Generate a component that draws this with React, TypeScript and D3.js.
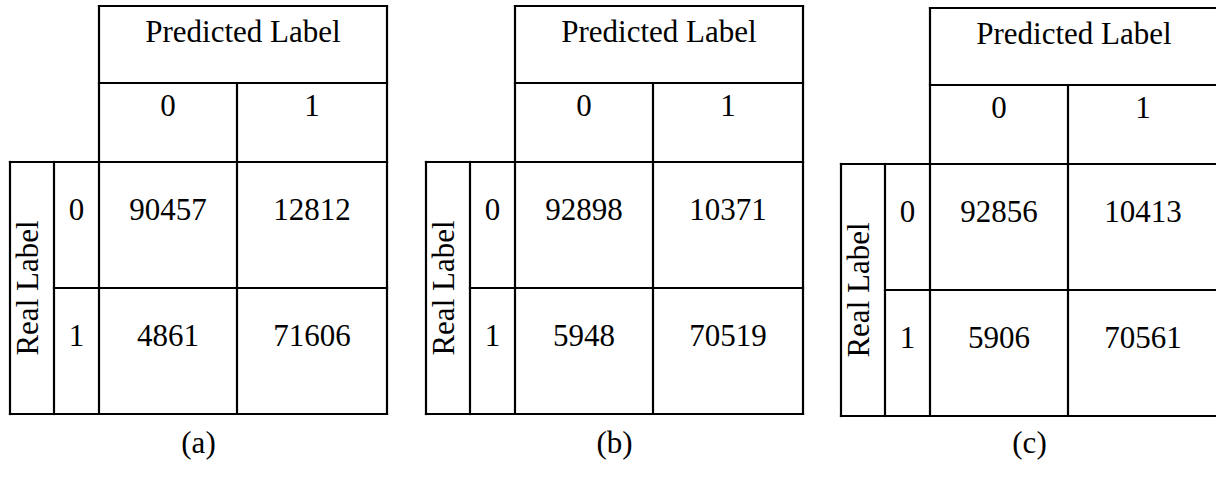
// App.tsx - three confusion matrices side by side
import * as d3 from 'd3';
import React, { useEffect, useRef } from 'react';

const classes = ['0', '1'];
const panelLabels = ['(a)', '(b)', '(c)'];
const predictedTitle = 'Predicted Label';
const realTitle = 'Real Label';

// rows = real label, columns = predicted label
const matrixA = [[90457, 12812], [4861, 71606]];
const matrixB = [[92898, 10371], [5948, 70519]];
const matrixC = [[92856, 10413], [5906, 70561]];
const matrices = [matrixA, matrixB, matrixC];

function App() {
    const ref = useRef<SVGSVGElement | null>(null);

    useEffect(() => {
        document.body.style.margin = '0';
        const width = 1216, height = 488;
        const svg = d3.select(ref.current)
            .attr('width', width)
            .attr('height', height);
        svg.selectAll('*').remove();

        // where each panel sits
        const panelX = d3.scaleOrdinal<string, number>().domain(panelLabels).range([10, 426, 841]);
        const panelY = d3.scaleOrdinal<string, number>().domain(panelLabels).range([6, 6, 8]);

        // column edges: title col, class col, predicted 0, predicted 1
        const colEdge = d3.scaleLinear().domain([0, 1, 2, 3, 4]).range([0, 44, 89, 227, 377]);
        // row edges: title row, class row, real 0, real 1
        const rowEdge = d3.scaleLinear().domain([0, 1, 2, 3, 4]).range([0, 77, 156, 282, 408]);

        const font = "'Liberation Serif', 'Times New Roman', serif";
        const fs = 31;
        const sw = 2.2;

        const line = (g, x1, y1, x2, y2) => g.append('line')
            .attr('x1', x1).attr('y1', y1).attr('x2', x2).attr('y2', y2)
            .attr('stroke', '#000').attr('stroke-width', sw).attr('stroke-linecap', 'square');

        const text = (g, x, y, s) => g.append('text')
            .attr('x', x).attr('y', y)
            .attr('text-anchor', 'middle')
            .style('font-family', font)
            .style('font-size', fs + 'px')
            .attr('fill', '#000')
            .text(s);

        panelLabels.forEach((label, p) => {
            const m = matrices[p];
            const g = svg.append('g')
                .attr('transform', 'translate(' + panelX(label) + ',' + panelY(label) + ')');

            const x0 = colEdge(0), x1 = colEdge(1), x2 = colEdge(2), x3 = colEdge(3), x4 = colEdge(4);
            const y0 = rowEdge(0), y1 = rowEdge(1), y2 = rowEdge(2), y3 = rowEdge(3), y4 = rowEdge(4);

            // header block
            line(g, x2, y0, x4, y0);
            line(g, x2, y0, x2, y4);
            line(g, x4, y0, x4, y4);
            line(g, x2, y1, x4, y1);
            line(g, x3, y1, x3, y4);
            // body block
            line(g, x0, y2, x4, y2);
            line(g, x0, y2, x0, y4);
            line(g, x1, y2, x1, y4);
            line(g, x1, y3, x4, y3);
            line(g, x0, y4, x4, y4);

            // titles
            text(g, (x2 + x4) / 2, y0 + 36, predictedTitle);
            g.append('text')
                .attr('transform', 'translate(' + ((x0 + x1) / 2 + 6) + ',' + (y2 + y4) / 2 + ') rotate(-90)')
                .attr('text-anchor', 'middle')
                .style('font-family', font)
                .style('font-size', fs + 'px')
                .text(realTitle);

            // class labels
            classes.forEach((c, j) => {
                text(g, (colEdge(2 + j) + colEdge(3 + j)) / 2, y1 + 33, c);
            });
            classes.forEach((c, i) => {
                const top = rowEdge(2 + i);
                text(g, (x1 + x2) / 2, top + 58, c);
                classes.forEach((_, j) => {
                    text(g, (colEdge(2 + j) + colEdge(3 + j)) / 2, top + 58, String(m[i][j]));
                });
            });

            // caption
            text(svg, panelX(label) + (x0 + x4) / 2, 453, label);
        });
    }, []);

    return (
        <div className="chart">
            <svg ref={ref} style={{ display: 'block' }}></svg>
        </div>
    );
}

export default App;
